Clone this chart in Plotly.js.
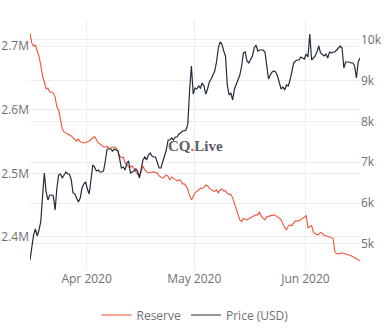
<!DOCTYPE html>
<html>
<head>
<meta charset="utf-8">
<script src="https://cdn.plot.ly/plotly-3.0.1.min.js"></script>
<style>html,body{margin:0;padding:0;background:#fff;}#chart{width:389px;height:330px;}</style>
</head>
<body>
<div id="chart"></div>
<script>
// Series start and sampling step (12 hours)
const startDate = '2020-03-16 05:00';
const stepMs = 12 * 3600 * 1000;

// Exchange reserve, in millions (M)
const reserveM = [
2.7204,2.7047,2.7000,2.7016,2.6922,2.6843,2.6702,2.6529,2.6435,2.6325,
2.6341,2.6278,2.6278,2.6262,2.6199,2.6042,2.5995,2.5807,2.5697,2.5650,
2.5634,2.5619,2.5603,2.5587,2.5556,2.5524,2.5509,2.5540,2.5493,2.5493,
2.5477,2.5485,2.5493,2.5509,2.5532,2.5556,2.5576,2.5532,2.5477,2.5462,
2.5430,2.5414,2.5414,2.5422,2.5399,2.5399,2.5414,2.5414,2.5399,2.5352,
2.5273,2.5242,2.5257,2.5163,2.5132,2.5100,2.5100,2.5116,2.5069,2.5022,
2.4983,2.4959,2.5022,2.5116,2.5053,2.5027,2.5006,2.5014,2.5022,2.5022,
2.5014,2.5006,2.4959,2.4936,2.4923,2.4943,2.4975,2.4951,2.4896,2.4943,
2.4920,2.4904,2.4881,2.4896,2.4889,2.4834,2.4834,2.4802,2.4747,2.4645,
2.4582,2.4637,2.4692,2.4716,2.4739,2.4763,2.4763,2.4779,2.4818,2.4802,
2.4763,2.4739,2.4724,2.4716,2.4739,2.4692,2.4739,2.4755,2.4724,2.4724,
2.4684,2.4669,2.4669,2.4614,2.4520,2.4441,2.4331,2.4268,2.4245,2.4292,
2.4276,2.4268,2.4284,2.4300,2.4316,2.4331,2.4347,2.4347,2.4394,2.4323,
2.4295,2.4268,2.4316,2.4320,2.4323,2.4339,2.4347,2.4331,2.4316,2.4300,
2.4268,2.4198,2.4143,2.4111,2.4166,2.4190,2.4174,2.4221,2.4253,2.4253,
2.4253,2.4276,2.4292,2.4308,2.4339,2.4143,2.4163,2.4174,2.4080,2.4057,
2.4033,2.4041,2.4072,2.4057,2.4025,2.4017,2.4009,2.4002,2.3994,2.3978,
2.3766,2.3735,2.3735,2.3735,2.3750,2.3743,2.3735,2.3719,2.3711,2.3703,
2.3688,2.3672,2.3664,2.3641,2.3625
];

// BTC price, USD
const priceUSD = [
4609,4975,5220,5367,5196,5342,5538,6174,6736,6271,
6076,6198,6198,6174,5831,6369,6687,6711,6614,6687,
6760,6711,6711,6565,6247,6222,6125,6027,6125,6369,
6467,6516,6345,6222,6565,6932,6883,6785,6809,6760,
6760,6785,7029,7323,7323,7323,7274,7323,7298,7274,
7078,6858,6883,6809,6980,7029,6736,6760,6785,6834,
6785,6614,6858,7054,7127,7054,7176,7225,7152,7127,
7127,6980,6858,6858,7005,7127,7298,7543,7543,7592,
7543,7616,7616,7689,7714,7763,7763,7787,7934,8765,
9352,8667,8814,8790,8863,8814,8936,8863,8667,8790,
8961,9034,9156,9230,9450,9792,9939,9890,9719,9597,
8888,8643,8692,8521,8790,8912,9010,9132,9352,9670,
9694,9474,9425,9499,9597,9792,9866,9719,9743,9743,
9743,9694,9401,9034,9132,9205,9230,9205,9108,8961,
8790,8839,8765,8888,8863,9010,9205,9425,9474,9499,
9499,9572,9548,9523,9645,9572,10134,9499,9548,9597,
9694,9841,9670,9621,9597,9645,9548,9694,9670,9694,
9694,9743,9792,9841,9792,9303,9450,9450,9450,9425,
9425,9352,9059,9450,9548
];

const seriesNames = ['Reserve', 'Price (USD)'];
const xRange = ['2020-03-16 05:00', '2020-06-16 05:00'];
const reserveRange = [2.348, 2.741];
const priceRange = [4364, 10477];

const reserveColor = '#ef5438';
const priceColor = '#222c3a';
const tickColor = '#6f6f6f';
const gridColor = '#ededed';

const traces = [
  {
    type: 'scatter', mode: 'lines', name: seriesNames[0],
    x0: startDate, dx: stepMs, y: reserveM, yaxis: 'y',
    line: {color: reserveColor, width: 1.1}, showlegend: false, hoverinfo: 'skip'
  },
  {
    type: 'scatter', mode: 'lines', name: seriesNames[1],
    x0: startDate, dx: stepMs, y: priceUSD, yaxis: 'y2',
    line: {color: priceColor, width: 1.2}, showlegend: false, hoverinfo: 'skip'
  },
  // legend entries
  {
    type: 'scatter', mode: 'lines', name: seriesNames[0], x: [null], y: [null], yaxis: 'y',
    line: {color: 'rgba(239,84,56,0.55)', width: 2.2}
  },
  {
    type: 'scatter', mode: 'lines', name: seriesNames[1], x: [null], y: [null], yaxis: 'y2',
    line: {color: 'rgba(34,44,58,0.5)', width: 2.2}
  }
];

const layout = {
  width: 389, height: 330,
  margin: {l: 30, r: 29, t: 20, b: 60, autoexpand: false},
  paper_bgcolor: '#ffffff', plot_bgcolor: '#ffffff',
  font: {family: '"Open Sans", Arial, sans-serif', size: 12, color: tickColor},
  showlegend: true,
  legend: {
    orientation: 'h', x: 0.5, xanchor: 'center', y: -0.18, yanchor: 'middle',
    font: {size: 12, color: tickColor}, bgcolor: 'rgba(0,0,0,0)'
  },
  xaxis: {
    type: 'date', range: xRange, dtick: 'M1', tickformat: '%b %Y',
    showgrid: true, gridcolor: gridColor, zeroline: false, showline: false,
    ticks: '', tickfont: {size: 12, color: tickColor}
  },
  yaxis: {
    range: reserveRange, dtick: 0.1, tickformat: '.1f', ticksuffix: 'M',
    showgrid: true, gridcolor: gridColor, zeroline: false, showline: false,
    ticks: '', tickfont: {size: 12, color: tickColor}
  },
  yaxis2: {
    range: priceRange, dtick: 1000, overlaying: 'y', side: 'right',
    showgrid: true, gridcolor: gridColor, zeroline: false, showline: false,
    ticks: '', tickfont: {size: 12, color: tickColor}
  },
  annotations: [{
    xref: 'paper', yref: 'paper', x: 0.5, y: 0.496, xanchor: 'center', yanchor: 'middle',
    text: 'CQ<span style="color:#ef5438">.</span>Live', showarrow: false,
    font: {family: '"Liberation Serif", "DejaVu Serif", serif', size: 15, color: '#5b6068', weight: 'bold'}
  }]
};

Plotly.newPlot('chart', traces, layout, {displayModeBar: false, staticPlot: true});
</script>
</body>
</html>
